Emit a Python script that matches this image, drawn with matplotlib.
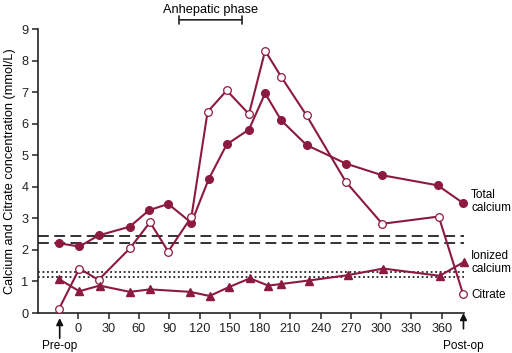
import matplotlib
matplotlib.use("Agg")
import matplotlib.pyplot as plt

plt.rcParams['font.family'] = ['Liberation Sans', 'DejaVu Sans']

# time in minutes (pre-op ~ -19, post-op ~ 381)
t_total = [-19, 1, 20, 51, 70, 89, 112, 129, 147, 169, 185, 201, 226, 265, 301, 356, 381]
total_calcium = [2.21, 2.11, 2.46, 2.74, 3.26, 3.46, 2.86, 4.24, 5.35, 5.82, 6.97, 6.11, 5.33, 4.74, 4.37, 4.05, 3.49]

t_citrate = [-19, 1, 20, 51, 71, 89, 112, 128, 147, 169, 185, 201, 226, 265, 301, 357, 381]
citrate = [0.14, 1.41, 1.05, 2.05, 2.88, 1.95, 3.05, 6.38, 7.06, 6.31, 8.32, 7.49, 6.27, 4.16, 2.83, 3.06, 0.61]

t_ionized = [-19, 1, 21, 51, 71, 111, 130, 149, 170, 188, 201, 228, 267, 302, 358, 382]
ionized_calcium = [1.07, 0.69, 0.87, 0.67, 0.75, 0.67, 0.54, 0.82, 1.10, 0.87, 0.92, 1.03, 1.20, 1.41, 1.18, 1.62]

total_ref = [2.22, 2.43]
ionized_ref = [1.15, 1.30]
anhepatic = (100, 162)
xticks = list(range(0, 361, 30))

col = "#8C1A3E"
fs = 9.2
fs_lab = 8.5

fig = plt.figure(figsize=(5.12, 3.53), dpi=100)
ax = fig.add_axes([0.0742, 0.1133, 0.832, 0.8037])

for y in total_ref:
    ax.axhline(y, color="#222222", lw=1.3, ls=(0, (6, 3)))
for y in ionized_ref:
    ax.axhline(y, color="#222222", lw=1.3, ls=(0, (1, 1.5)))

ax.plot(t_total, total_calcium, color=col, lw=1.5, marker="o", ms=5.5,
        mfc=col, mec=col, clip_on=False, zorder=3)
ax.plot(t_citrate, citrate, color=col, lw=1.5, marker="o", ms=5.5,
        mfc="white", mec=col, mew=0.9, clip_on=False, zorder=3)
ax.plot(t_ionized, ionized_calcium, color=col, lw=1.5, marker="^", ms=5.5,
        mfc=col, mec=col, clip_on=False, zorder=3)

ax.set_xlim(-40, 382)
ax.set_ylim(0, 9)
ax.set_xticks(xticks)
ax.set_yticks(range(0, 10))
ax.tick_params(labelsize=fs, length=4, width=1.1, colors="#222222", pad=3)
for s in ["top", "right"]:
    ax.spines[s].set_visible(False)
for s in ["left", "bottom"]:
    ax.spines[s].set_linewidth(1.2)
    ax.spines[s].set_color("#222222")

ax.set_ylabel("Calcium and Citrate concentration (mmol/L)", fontsize=fs, labelpad=4)

# right-side series labels
ax.text(389, 3.54, "Total\ncalcium", fontsize=fs_lab, va="center", ha="left",
        linespacing=1.05, clip_on=False)
ax.text(389, 1.6, "Ionized\ncalcium", fontsize=fs_lab, va="center", ha="left",
        linespacing=1.05, clip_on=False)
ax.text(389, 0.58, "Citrate", fontsize=fs_lab, va="center", ha="left", clip_on=False)

# anhepatic phase bracket
ax.annotate("", xy=(anhepatic[0], 9.3), xytext=(anhepatic[1], 9.3),
            xycoords="data", annotation_clip=False,
            arrowprops=dict(arrowstyle="|-|", mutation_scale=3, lw=1.2,
                            color="#222222", shrinkA=0, shrinkB=0))
ax.text(sum(anhepatic) / 2, 9.6, "Anhepatic phase", fontsize=fs, ha="center",
        va="center", clip_on=False)

# pre-op / post-op arrows
for xv, lab, ytail, ytip in [(-18.5, "Pre-op", -0.8, -0.16), (381.5, "Post-op", -0.5, 0.0)]:
    ax.annotate("", xy=(xv, ytip), xytext=(xv, ytail), annotation_clip=False,
                arrowprops=dict(arrowstyle="-|>", mutation_scale=10, lw=1.2,
                                color="#111111", shrinkA=0, shrinkB=0))
    ax.text(xv, -1.05, lab, fontsize=fs_lab, ha="center", va="center", clip_on=False)

fig.savefig("out.png", dpi=100)
